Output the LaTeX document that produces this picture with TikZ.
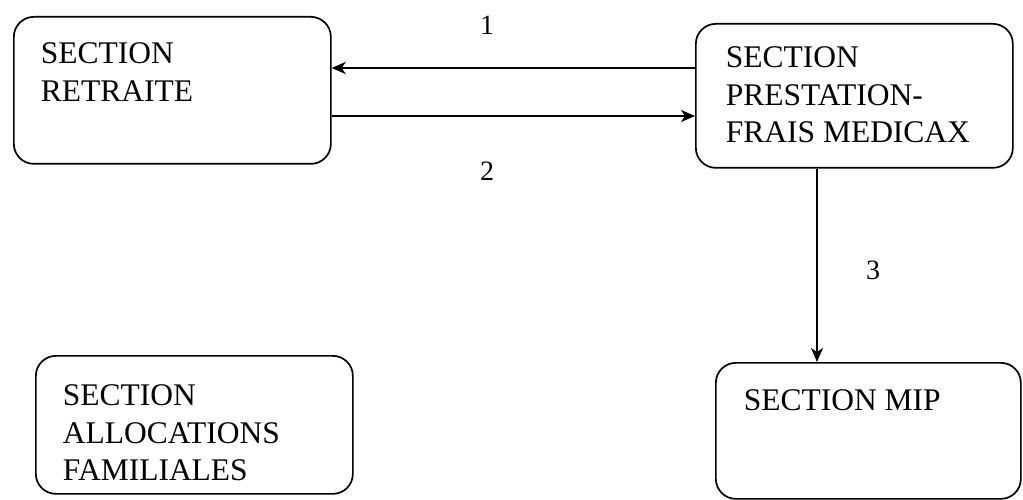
\documentclass[tikz,border=0pt]{standalone}
\usepackage{fontspec}
\setmainfont{Liberation Serif}
\usetikzlibrary{arrows.meta}
\newcommand\boxtxt[4]{\parbox[c][#1][t]{#2}{\vspace*{#3}\raggedright #4}}
\begin{document}
\begin{tikzpicture}[x=1pt,y=-1pt,
  sect/.style={draw, line width=1.7pt, rounded corners=20pt, inner ysep=0pt, anchor=north west,
    font=\fontsize{31.5}{37.5}\selectfont},
  conn/.style={line width=1.7pt, -{Stealth[length=14pt,width=12pt,inset=4pt]}},
  num/.style={font=\fontsize{28}{30}\selectfont, inner sep=0pt}]
\useasboundingbox (0,0) rectangle (1023,500);
\node[sect, inner xsep=27pt] (b1) at (13,16) {\boxtxt{147pt}{263pt}{26pt}{SECTION\\RETRAITE}};
\node[sect, inner xsep=30pt] (b2) at (695,23) {\boxtxt{144pt}{257pt}{23pt}{SECTION\\PRESTATION-\\FRAIS MEDICAX}};
\node[sect, inner xsep=27pt] (b3) at (35,355) {\boxtxt{138pt}{263pt}{29pt}{SECTION\\ALLOCATIONS\\FAMILIALES}};
\node[sect, inner xsep=28pt] (b4) at (715,362) {\boxtxt{136pt}{249pt}{27pt}{SECTION MIP}};
\draw[conn] (b2.west |- 0,68) -- (b1.east |- 0,68);
\draw[conn] (b1.east |- 0,116) -- (b2.west |- 0,116);
\draw[conn] (b2.south -| 817,0) -- (b4.north -| 817,0);
\node[num] (l1) at (487,25) {1};
\node[num] (l2) at (487,171) {2};
\node[num] (l3) at (873,270) {3};
\end{tikzpicture}
\end{document}
